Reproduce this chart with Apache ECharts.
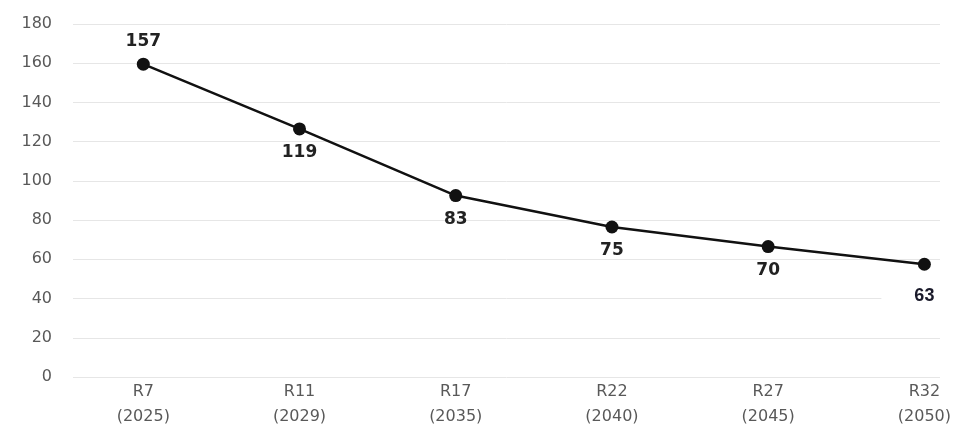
<!DOCTYPE html>
<html><head><meta charset="utf-8">
<script src="https://cdn.jsdelivr.net/npm/echarts@6/dist/echarts.min.js"></script>
<style>html,body{margin:0;padding:0;background:#fff}#c{width:959px;height:430px}</style>
</head><body><div id="c"></div>
<script>
const categories = ['R7\n(2025)', 'R11\n(2029)', 'R17\n(2035)', 'R22\n(2040)', 'R27\n(2045)', 'R32\n(2050)'];
const values = [159.5, 126.5, 92.5, 76.5, 66.5, 57.5];
const dataLabels = ['157', '119', '83', '75', '70', '63'];
const yTicks = [0, 20, 40, 60, 80, 100, 120, 140, 160, 180];

const FONT = '"DejaVu Sans", Verdana, sans-serif';
const chart = echarts.init(document.getElementById('c'), null, {renderer: 'canvas'});
const pts = values.map((v, i) => {
  const p = {value: [i, v]};
  if (i === 0) p.label = {position: 'top', distance: 8};
  if (i === 5) p.label = {position: 'bottom', distance: 10, backgroundColor: '#fff', padding: [6, 33, 6, 33], color: '#1a1a2a', fontFamily: '"Liberation Sans", Arial, sans-serif', fontSize: 18};
  return p;
});
chart.setOption({
  backgroundColor: '#fff',
  animation: false,
  grid: {left: 73, right: 19, top: 24, bottom: 53, containLabel: false},
  xAxis: {
    type: 'value', min: -0.45, max: 5.1,
    axisLine: {show: false}, axisTick: {show: false}, splitLine: {show: false},
    axisLabel: {
      customValues: categories.map((c, i) => i),
      formatter: v => categories[Math.round(v)] || '',
      color: '#595959', fontSize: 16, fontFamily: FONT, lineHeight: 25, margin: 2
    }
  },
  yAxis: {
    type: 'value', min: yTicks[0], max: yTicks[yTicks.length - 1], interval: 20,
    axisLine: {show: false}, axisTick: {show: false},
    splitLine: {lineStyle: {color: '#e6e6e6', width: 1}},
    axisLabel: {color: '#595959', fontSize: 16, fontFamily: FONT, margin: 21}
  },
  series: [{
    type: 'line', data: pts,
    symbol: 'circle', symbolSize: 13,
    itemStyle: {color: '#111'},
    lineStyle: {color: '#111', width: 2.5},
    label: {
      show: true, position: 'bottom', distance: 9,
      formatter: p => dataLabels[p.dataIndex],
      color: '#222', fontSize: 17, fontWeight: 'bold', fontFamily: FONT
    }
  }]
});
</script></body></html>
